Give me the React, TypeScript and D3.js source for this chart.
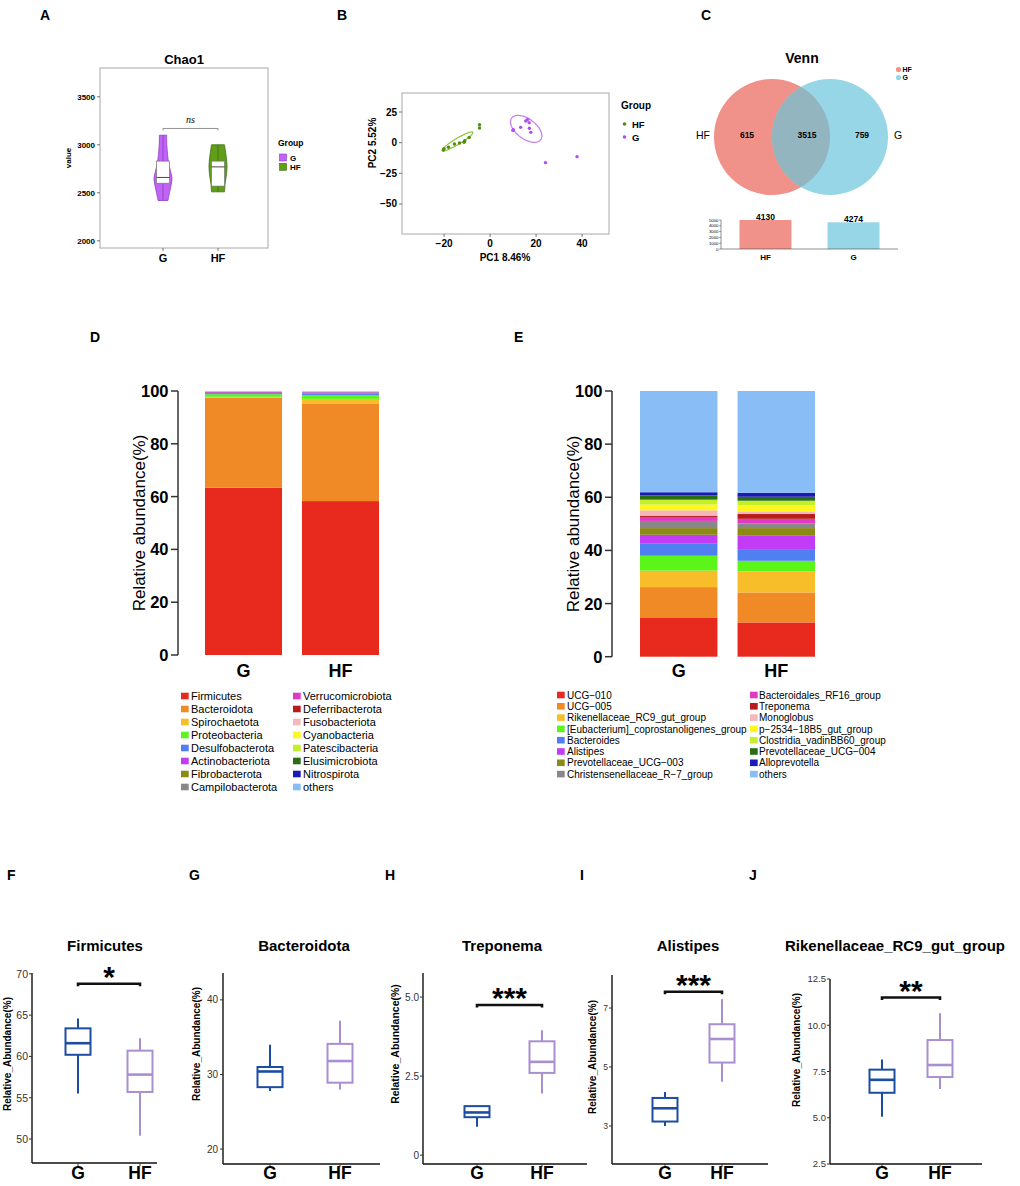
import React from "react";
import * as d3 from "d3";

const FONT = "'Liberation Sans', Arial, Helvetica, sans-serif";

// ---------- A: Chao1 violin ----------
const chaoGroups = ["G", "HF"];
const chaoFill = ["#C263F7", "#5E9E18"];
const chaoStroke = ["#8E3EC0", "#3F6F0C"];
const chaoTicks = [2000, 2500, 3000, 3500];
// [value, relative half-width]
const chaoViolinG: [number, number][] = [
  [2420, 0.55], [2500, 0.72], [2580, 0.9], [2650, 1], [2720, 0.85], [2800, 0.65],
  [2900, 0.5], [3000, 0.42], [3100, 0.4],
];
const chaoViolinHF: [number, number][] = [
  [2510, 0.72], [2600, 0.8], [2700, 0.95], [2780, 1], [2870, 0.92], [2950, 0.8], [3000, 0.72],
];
// min, q1, median, q3, max
const chaoBoxG = [2420, 2600, 2660, 2830, 3100];
const chaoBoxHF = [2510, 2570, 2770, 2830, 3000];
const chaoSig = ["ns"];
const chaoSigValue = [3170];

// ---------- B: PCA ----------
const pcaGroups = ["HF", "G"];
const pcaColors = ["#4E8F0E", "#B34CF5"];
const pcaEllipseColors = ["#8CC43C", "#C07BF5"];
const pcaXTicks = [-20, 0, 20, 40];
const pcaYTicks = [-50, -25, 0, 25];
const pcaHF: [number, number][] = [
  [-20.3, -6], [-20, -4.9], [-18.1, -3.8], [-15.5, -1.1], [-13.3, -0.3],
  [-11.3, 0.3], [-11, 1.6], [-9.1, 4.3], [-4.6, 14.7], [-4.6, 12],
];
const pcaG: [number, number][] = [
  [10.1, 10.6], [9.9, 10], [13.3, 12.5], [15.5, 17.7], [16.2, 18.7],
  [17, 16.3], [17.1, 11.7], [17.7, 8.4], [24.1, -16.3], [37.8, -11.4],
];
// center, semi-axis a, semi-axis b (data units)
const ellipseHF = [[-14.15, 1.0], [6.65, 7.5], [0.67, -2.1]];
const ellipseG = [[15.7, 11.25], [6.3, -8.85], [-2.6, -6.5]];

// ---------- C: Venn ----------
const vennNames = ["HF", "G"];
const vennOnly = [615, 759];
const vennShared = [3515];
const vennTotals = [4130, 4274];
const vennBarHeights = [5000, 4600];
const vennBarTicks = [0, 1000, 2000, 3000, 4000, 5000];
const vennColors = ["#F0928A", "#97D6E7"];
const vennOverlapColor = "#93B5C0";

// ---------- D: phylum ----------
const stackGroups = ["G", "HF"];
const stackTicks = [0, 20, 40, 60, 80, 100];
const phylumNames = [
  "Firmicutes", "Bacteroidota", "Spirochaetota", "Proteobacteria", "Desulfobacterota",
  "Actinobacteriota", "Fibrobacterota", "Campilobacterota", "Verrucomicrobiota",
  "Deferribacterota", "Fusobacteriota", "Cyanobacteria", "Patescibacteria",
  "Elusimicrobiota", "Nitrospirota", "others",
];
const taxonColors = [
  "#E8291E", "#F08A26", "#F7BE2A", "#5CF519", "#4F7FF0", "#C23BF5", "#8A8A14", "#888888",
  "#E03AC2", "#B81B1B", "#F4B8BC", "#FFF51F", "#C3F02A", "#2A6E14", "#1A1AB8", "#88BEF5",
];
const phylumG = [63.4, 34.1, 0.3, 1.0, 0.4, 0.35, 0.05, 0.05, 0.03, 0.03, 0.02, 0.02, 0.03, 0.02, 0.02, 0.1];
const phylumHF = [58.3, 37.0, 1.7, 1.5, 0.5, 0.5, 0.05, 0.05, 0.03, 0.03, 0.02, 0.02, 0.03, 0.02, 0.02, 0.1];

// ---------- E: genus ----------
const genusNames = [
  "UCG−010", "UCG−005", "Rikenellaceae_RC9_gut_group", "[Eubacterium]_coprostanoligenes_group",
  "Bacteroides", "Alistipes", "Prevotellaceae_UCG−003", "Christensenellaceae_R−7_group",
  "Bacteroidales_RF16_group", "Treponema", "Monoglobus", "p−2534−18B5_gut_group",
  "Clostridia_vadinBB60_group", "Prevotellaceae_UCG−004", "Alloprevotella", "others",
];
const genusG = [14.8, 11.4, 6.2, 5.6, 4.7, 3.2, 2.5, 2.7, 1.5, 0.5, 2.0, 2.2, 1.8, 1.6, 1.2, 38.1];
const genusHF = [12.9, 11.3, 7.9, 4.0, 4.4, 5.0, 2.9, 1.7, 1.8, 1.8, 1.0, 2.3, 1.7, 1.5, 1.5, 38.3];

// ---------- F-J: box plots ----------
const bpLetters = ["F", "G", "H", "I", "J"];
const bpTitles = ["Firmicutes", "Bacteroidota", "Treponema", "Alistipes", "Rikenellaceae_RC9_gut_group"];
const bpG = [
  [55.5, 60.2, 61.6, 63.4, 64.6],
  [27.8, 28.3, 30.4, 31.0, 34.0],
  [0.9, 1.2, 1.35, 1.55, 1.55],
  [3.0, 3.15, 3.6, 3.95, 4.15],
  [5.05, 6.35, 7.05, 7.6, 8.15],
];
const bpHF = [
  [50.4, 55.7, 57.8, 60.7, 62.2],
  [28.0, 28.9, 31.8, 34.1, 37.2],
  [1.95, 2.6, 2.95, 3.6, 3.95],
  [4.5, 5.15, 5.95, 6.45, 7.3],
  [6.55, 7.2, 7.85, 9.2, 10.65],
];
const bpTicks = [[50, 55, 60, 65, 70], [20, 30, 40], [0, 2.5, 5.0], [3, 5, 7], [2.5, 5.0, 7.5, 10.0, 12.5]];
const bpTickLabels = [
  ["50", "55", "60", "65", "70"], ["20", "30", "40"], ["0", "2.5", "5.0"], ["3", "5", "7"],
  ["2.5", "5.0", "7.5", "10.0", "12.5"],
];
const bpDomains = [[47.1, 70.1], [18, 43.6], [-0.28, 5.76], [1.71, 8.12], [2.5, 12.5]];
const bpSig = ["*", "", "***", "***", "**"];
const bpSigValue = [68.8, 0, 4.75, 7.55, 11.5];
const bpColors = ["#1C4DA1", "#A98FD1"];

// layout (pixels) for the box-plot panels
const bpLayout = [
  { ax: 32, top: 973, bottom: 1163, xEnd: 157, gx: 78, hx: 140, title: 105, letter: 7, ylab: 7, ylabY: 1054, tickX: 28, tickFs: 10.5, ylabFs: 10 },
  { ax: 223, top: 973, bottom: 1164, xEnd: 380, gx: 270, hx: 340, title: 304, letter: 189, ylab: 196.5, ylabY: 1044, tickX: 218, tickFs: 10, ylabFs: 10 },
  { ax: 423, top: 973, bottom: 1164, xEnd: 587, gx: 477, hx: 542, title: 502, letter: 385, ylab: 395, ylabY: 1044, tickX: 419, tickFs: 10, ylabFs: 10.5 },
  { ax: 612, top: 975, bottom: 1164, xEnd: 768, gx: 665, hx: 722, title: 688, letter: 580, ylab: 592, ylabY: 1057, tickX: 608, tickFs: 8.5, ylabFs: 10 },
  { ax: 830, top: 979, bottom: 1164, xEnd: 982, gx: 882, hx: 940, title: 895, letter: 749, ylab: 796, ylabY: 1050, tickX: 826, tickFs: 9.5, ylabFs: 10 },
];

const fmt = d3.format("d");

function PanelA() {
  const y = d3.scaleLinear().domain([1925, 3800]).range([248, 68]);
  const x = d3.scalePoint<string>().domain(chaoGroups).range([163, 218]);
  const vw = 9;
  const profiles = [chaoViolinG, chaoViolinHF];
  const boxes = [chaoBoxG, chaoBoxHF];
  const sigY = y(chaoSigValue[0]);
  return (
    <g fontFamily={FONT}>
      <text x={40} y={20} fontSize={14} fontWeight="bold">A</text>
      <text x={184} y={64} fontSize={13} fontWeight="bold" textAnchor="middle">Chao1</text>
      <rect x={100} y={68} width={168} height={180} fill="none" stroke="#A8A8A8" strokeWidth={1} />
      {chaoTicks.map((t) => (
        <g key={t}>
          <line x1={97} x2={100} y1={y(t)} y2={y(t)} stroke="#555" strokeWidth={0.8} />
          <text x={95} y={y(t)} dy="0.35em" fontSize={8} fontWeight="bold" textAnchor="end">{t}</text>
        </g>
      ))}
      <text transform={`translate(71,158) rotate(-90)`} fontSize={8} fontWeight="bold" textAnchor="middle">value</text>
      {chaoGroups.map((g, i) => {
        const cx = x(g)!;
        const area = d3.area<[number, number]>()
          .y((d) => y(d[0]))
          .x0((d) => cx - vw * d[1])
          .x1((d) => cx + vw * d[1])
          .curve(d3.curveCatmullRom);
        const b = boxes[i];
        return (
          <g key={g}>
            <path d={area(profiles[i])!} fill={chaoFill[i]} stroke={chaoStroke[i]} strokeWidth={0.8} />
            <line x1={cx} x2={cx} y1={y(b[0])} y2={y(b[4])} stroke={chaoStroke[i]} strokeWidth={0.8} />
            <rect x={cx - 6.5} y={y(b[3])} width={13} height={y(b[1]) - y(b[3])} fill="#fff" stroke="#777" strokeWidth={0.7} />
            <line x1={cx - 6.5} x2={cx + 6.5} y1={y(b[2])} y2={y(b[2])} stroke="#333" strokeWidth={0.9} />
            <line x1={cx} x2={cx} y1={248} y2={251} stroke="#555" strokeWidth={0.8} />
            <text x={cx} y={262} fontSize={11} fontWeight="bold" textAnchor="middle">{g}</text>
          </g>
        );
      })}
      <path d={`M${x("G")},${sigY + 2}V${sigY}H${x("HF")}V${sigY + 2}`} fill="none" stroke="#777" strokeWidth={0.8} />
      <text x={(x("G")! + x("HF")!) / 2} y={123} fontSize={10} fontStyle="italic" fontFamily="'Liberation Serif', serif" textAnchor="middle">{chaoSig[0]}</text>
      <text x={278} y={146} fontSize={8.5} fontWeight="bold">Group</text>
      {chaoGroups.map((g, i) => (
        <g key={g}>
          <rect x={279.5} y={154 + i * 9.3} width={7} height={7} fill={chaoFill[i]} stroke={chaoStroke[i]} strokeWidth={0.6} />
          <text x={290} y={160.5 + i * 9.3} fontSize={8} fontWeight="bold">{g}</text>
        </g>
      ))}
    </g>
  );
}

function PanelB() {
  const x = d3.scaleLinear().domain([-38.3, 51.7]).range([402, 609]);
  const y = d3.scaleLinear().domain([-74.5, 40.5]).range([234, 93]);
  const sets = [pcaHF, pcaG];
  const ells = [ellipseHF, ellipseG];
  const ellPath = (e: number[][]) => {
    const pts = d3.range(0, 73).map((k) => {
      const t = (k / 72) * Math.PI * 2;
      return [
        x(e[0][0] + e[1][0] * Math.cos(t) + e[2][0] * Math.sin(t)),
        y(e[0][1] + e[1][1] * Math.cos(t) + e[2][1] * Math.sin(t)),
      ] as [number, number];
    });
    return d3.line()(pts)!;
  };
  return (
    <g fontFamily={FONT}>
      <text x={337} y={20} fontSize={14} fontWeight="bold">B</text>
      <rect x={402} y={93} width={207} height={141} fill="none" stroke="#A8A8A8" strokeWidth={1} />
      {pcaYTicks.map((t) => (
        <g key={t}>
          <line x1={399} x2={402} y1={y(t)} y2={y(t)} stroke="#555" strokeWidth={0.8} />
          <text x={397} y={y(t)} dy="0.35em" fontSize={10} fontWeight="bold" textAnchor="end">{d3.format("d")(t)}</text>
        </g>
      ))}
      {pcaXTicks.map((t) => (
        <g key={t}>
          <line x1={x(t)} x2={x(t)} y1={234} y2={237} stroke="#555" strokeWidth={0.8} />
          <text x={x(t)} y={247} fontSize={10} fontWeight="bold" textAnchor="middle">{d3.format("d")(t)}</text>
        </g>
      ))}
      <text x={505} y={261} fontSize={10} fontWeight="bold" textAnchor="middle">PC1 8.46%</text>
      <text transform={`translate(376,143) rotate(-90)`} fontSize={10} fontWeight="bold" textAnchor="middle">PC2 5.52%</text>
      {ells.map((e, i) => (
        <path key={i} d={ellPath(e)} fill="none" stroke={pcaEllipseColors[i]} strokeWidth={1.2} />
      ))}
      {sets.map((s, i) =>
        s.map((p, j) => <circle key={`${i}-${j}`} cx={x(p[0])} cy={y(p[1])} r={1.7} fill={pcaColors[i]} />)
      )}
      <text x={621} y={109} fontSize={10} fontWeight="bold">Group</text>
      {pcaGroups.map((g, i) => (
        <g key={g}>
          <circle cx={624.5} cy={124 + i * 13} r={1.8} fill={pcaColors[i]} />
          <text x={632} y={127.5 + i * 13} fontSize={9.5} fontWeight="bold">{g}</text>
        </g>
      ))}
    </g>
  );
}

function PanelC() {
  const cx = [772, 830];
  const cy = 137;
  const r = 58;
  const bx = d3.scaleBand<string>().domain(vennNames).range([721, 898]).paddingInner(0.41).paddingOuter(0.21);
  const by = d3.scaleLinear().domain([0, 5000]).range([249, 220]);
  return (
    <g fontFamily={FONT}>
      <text x={701} y={20} fontSize={14} fontWeight="bold">C</text>
      <text x={802} y={63} fontSize={14} fontWeight="bold" textAnchor="middle">Venn</text>
      <defs>
        <clipPath id="vennClipHF">
          <circle cx={cx[0]} cy={cy} r={r} />
        </clipPath>
      </defs>
      <circle cx={cx[0]} cy={cy} r={r} fill={vennColors[0]} />
      <circle cx={cx[1]} cy={cy} r={r} fill={vennColors[1]} />
      <circle cx={cx[1]} cy={cy} r={r} fill={vennOverlapColor} clipPath="url(#vennClipHF)" />
      <text x={703} y={139} fontSize={10.5} textAnchor="middle">{vennNames[0]}</text>
      <text x={898} y={139} fontSize={10.5} textAnchor="middle">{vennNames[1]}</text>
      <text x={747} y={138} fontSize={8.5} fontWeight="bold" textAnchor="middle">{vennOnly[0]}</text>
      <text x={807} y={138} fontSize={8.5} fontWeight="bold" textAnchor="middle">{vennShared[0]}</text>
      <text x={862} y={138} fontSize={8.5} fontWeight="bold" textAnchor="middle">{vennOnly[1]}</text>
      {vennNames.map((n, i) => (
        <g key={n}>
          <circle cx={898.5} cy={69.5 + i * 8} r={2.6} fill={vennColors[i]} />
          <text x={902.5} y={72 + i * 8} fontSize={7} fontWeight="bold">{n}</text>
        </g>
      ))}
      {vennNames.map((n, i) => (
        <g key={n}>
          <rect x={bx(n)} y={by(vennBarHeights[i])} width={bx.bandwidth()} height={249 - by(vennBarHeights[i])} fill={vennColors[i]} />
          <text x={bx(n)! + bx.bandwidth() / 2} y={by(vennBarHeights[i]) - 0.5} fontSize={8.5} fontWeight="bold" textAnchor="middle">{vennTotals[i]}</text>
          <text x={bx(n)! + bx.bandwidth() / 2} y={260} fontSize={8} fontWeight="bold" textAnchor="middle">{n}</text>
        </g>
      ))}
      <line x1={721} x2={721} y1={220} y2={249} stroke="#444" strokeWidth={0.6} />
      <line x1={721} x2={898} y1={249} y2={249} stroke="#444" strokeWidth={0.6} />
      {vennBarTicks.map((t) => (
        <g key={t}>
          <line x1={719} x2={721} y1={by(t)} y2={by(t)} stroke="#444" strokeWidth={0.5} />
          <text x={718.5} y={by(t)} dy="0.35em" fontSize={4.3} textAnchor="end">{t}</text>
        </g>
      ))}
    </g>
  );
}

function StackPanel(props: {
  letter: string; letterX: number; axisX: number; range: [number, number]; y0: number;
  names: string[]; gVals: number[]; hVals: number[];
  legendCols: number[]; legendTextCols: number[]; legendY: number; legendStep: number; legendFs: number;
}) {
  const { letter, letterX, axisX, range, y0, names, gVals, hVals } = props;
  const y = d3.scaleLinear().domain([0, 100]).range([y0, 391]);
  const x = d3.scaleBand<string>().domain(stackGroups).range(range).paddingInner(0.206).paddingOuter(0.1);
  const stack = d3.stack<number[], number>().keys(d3.range(names.length)).value((row, k) => row[k]);
  const series = stack([gVals, hVals]);
  return (
    <g fontFamily={FONT}>
      <text x={letterX} y={342} fontSize={14} fontWeight="bold">{letter}</text>
      {series.map((s, i) =>
        s.map((seg, j) => (
          <rect key={`${i}-${j}`} x={x(stackGroups[j])} width={x.bandwidth()} y={y(seg[1])}
            height={Math.max(0, y(seg[0]) - y(seg[1]))} fill={taxonColors[i]} />
        ))
      )}
      <line x1={axisX} x2={axisX} y1={y(0)} y2={y(100)} stroke="#333" strokeWidth={1.5} />
      {stackTicks.map((t) => (
        <g key={t}>
          <line x1={axisX - 7} x2={axisX} y1={y(t)} y2={y(t)} stroke="#333" strokeWidth={1.5} />
          <text x={axisX - 9.5} y={y(t)} dy="0.36em" fontSize={16.5} fontWeight="bold" textAnchor="end">{t}</text>
        </g>
      ))}
      <text transform={`translate(${axisX - 39},${(y(0) + y(100)) / 2}) rotate(-90)`} fontSize={17} textAnchor="middle" dy="0.35em">Relative abundance(%)</text>
      {stackGroups.map((g) => (
        <text key={g} x={x(g)! + x.bandwidth() / 2} y={677} fontSize={18} fontWeight="bold" textAnchor="middle">{g}</text>
      ))}
      {names.map((n, i) => {
        const col = Math.floor(i / 8);
        const row = i % 8;
        const cy = props.legendY + row * props.legendStep;
        return (
          <g key={n}>
            <rect x={props.legendCols[col]} y={cy - 3.3} width={7.7} height={6.6} fill={taxonColors[i]} />
            <text x={props.legendTextCols[col]} y={cy} dy="0.36em" fontSize={props.legendFs}>{n}</text>
          </g>
        );
      })}
    </g>
  );
}

function BoxPanel({ i }: { i: number }) {
  const L = bpLayout[i];
  const y = d3.scaleLinear().domain(bpDomains[i]).range([L.bottom, L.top]);
  const xs = [L.gx, L.hx];
  const groups = ["G", "HF"];
  const data = [bpG[i], bpHF[i]];
  const hw = 12.5;
  return (
    <g fontFamily={FONT}>
      <text x={L.letter} y={880} fontSize={14} fontWeight="bold">{bpLetters[i]}</text>
      <text x={L.title} y={951} fontSize={15} fontWeight="bold" textAnchor="middle">{bpTitles[i]}</text>
      <line x1={L.ax} x2={L.ax} y1={L.top} y2={L.bottom} stroke="#111" strokeWidth={1.4} />
      <line x1={L.ax} x2={L.xEnd} y1={L.bottom} y2={L.bottom} stroke="#111" strokeWidth={1.4} />
      {bpTicks[i].map((t, k) => (
        <g key={t}>
          <line x1={L.ax - 3} x2={L.ax} y1={y(t)} y2={y(t)} stroke="#333" strokeWidth={1} />
          <text x={L.tickX} y={y(t)} dy="0.36em" fontSize={L.tickFs} fill="#333" textAnchor="end">{bpTickLabels[i][k]}</text>
        </g>
      ))}
      <text transform={`translate(${L.ylab},${L.ylabY}) rotate(-90)`} dy="0.35em" fontSize={L.ylabFs} fontWeight="bold" textAnchor="middle">Relative_Abundance(%)</text>
      {groups.map((g, j) => {
        const d = data[j];
        const cx = xs[j];
        return (
          <g key={g}>
            <line x1={cx} x2={cx} y1={L.bottom} y2={L.bottom + 3} stroke="#333" strokeWidth={1} />
            <text x={cx} y={1179} fontSize={17.5} fontWeight="bold" textAnchor="middle">{g}</text>
            <line x1={cx} x2={cx} y1={y(d[0])} y2={y(d[1])} stroke={bpColors[j]} strokeWidth={2} />
            <line x1={cx} x2={cx} y1={y(d[3])} y2={y(d[4])} stroke={bpColors[j]} strokeWidth={2} />
            <rect x={cx - hw} y={y(d[3])} width={hw * 2} height={y(d[1]) - y(d[3])} fill="#fff" stroke={bpColors[j]} strokeWidth={2} />
            <line x1={cx - hw} x2={cx + hw} y1={y(d[2])} y2={y(d[2])} stroke={bpColors[j]} strokeWidth={2.6} />
          </g>
        );
      })}
      {bpSig[i] && (
        <g>
          <path d={`M${L.gx},${y(bpSigValue[i]) + 2.5}V${y(bpSigValue[i])}H${L.hx}V${y(bpSigValue[i]) + 2.5}`} fill="none" stroke="#111" strokeWidth={2.6} />
          <text x={(L.gx + L.hx) / 2} y={y(bpSigValue[i]) + 3} fontSize={30} fontWeight="bold" textAnchor="middle">{bpSig[i]}</text>
        </g>
      )}
    </g>
  );
}

export default function App() {
  return (
    <svg width={1020} height={1186} viewBox="0 0 1020 1186"
      style={{ position: "absolute", left: 0, top: 0, background: "#fff" }}>
      <rect width={1020} height={1186} fill="#fff" />
      <PanelA />
      <PanelB />
      <PanelC />
      <StackPanel letter="D" letterX={90} axisX={178} range={[195.3, 388.7]} y0={655}
        names={phylumNames} gVals={phylumG} hVals={phylumHF}
        legendCols={[181, 293]} legendTextCols={[191, 303]} legendY={696} legendStep={13} legendFs={11} />
      <StackPanel letter="E" letterX={514} axisX={612} range={[630.25, 824.75]} y0={656.7}
        names={genusNames} gVals={genusG} hVals={genusHF}
        legendCols={[557, 750]} legendTextCols={[567, 759]} legendY={695} legendStep={11.3} legendFs={10} />
      {bpLetters.map((_, i) => <BoxPanel key={i} i={i} />)}
    </svg>
  );
}
